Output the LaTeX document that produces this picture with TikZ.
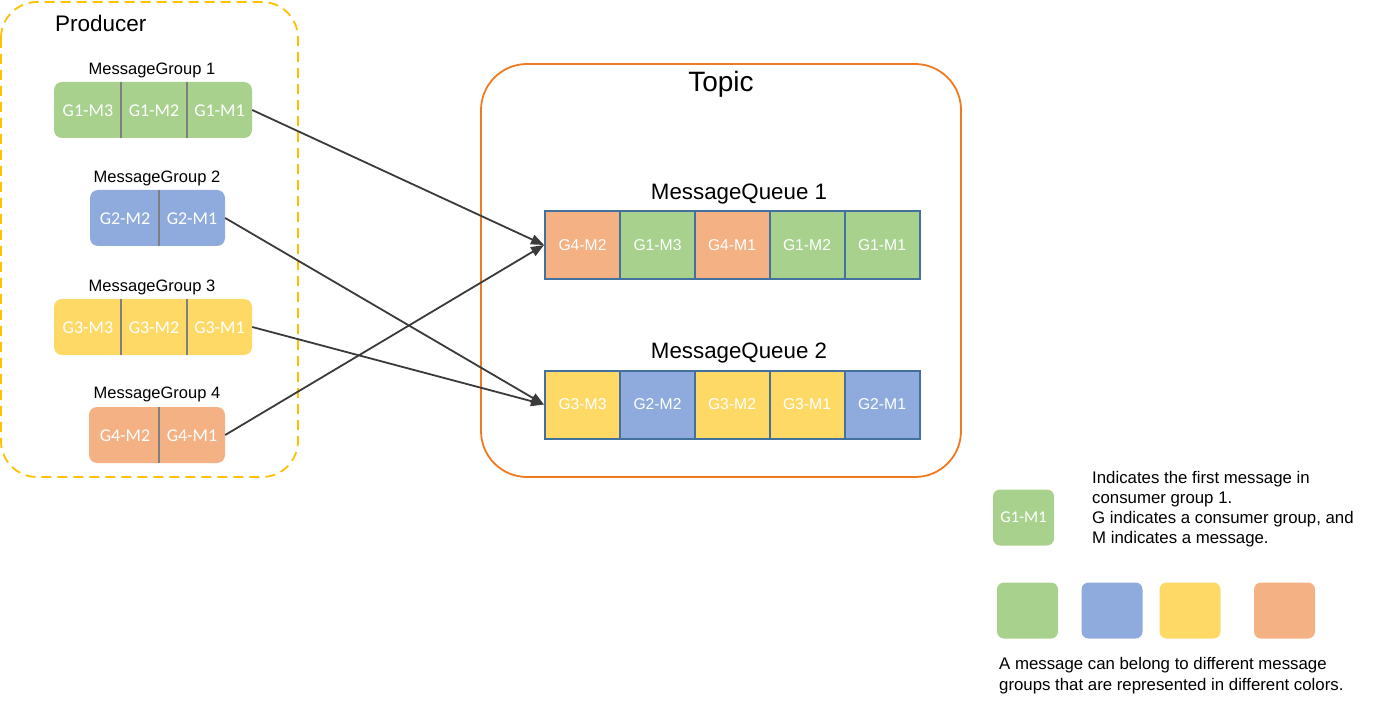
\documentclass[tikz,border=0pt]{standalone}
\usepackage{fontspec}
\setmainfont{Liberation Sans}
\newfontfamily\carlitofont{Carlito}
\usetikzlibrary{arrows.meta}
\definecolor{cgreen}{HTML}{A9D18E}
\definecolor{cblue}{HTML}{8FAADC}
\definecolor{cyellow}{HTML}{FFD966}
\definecolor{corange}{HTML}{F4B183}
\definecolor{prodline}{HTML}{FFC000}
\definecolor{topicline}{HTML}{F27A1E}
\definecolor{qline}{HTML}{41719C}
\definecolor{arrcol}{HTML}{3A3A3A}
\definecolor{divcol}{HTML}{7F7F7F}
\tikzset{
  grpbox/.style={rounded corners=8pt, inner sep=0pt, draw=none},
  pcell/.style={text=white, font=\carlitofont\fontsize{18}{21}\selectfont, inner sep=0pt},
  divider/.style={divcol, line width=1.6pt},
  qcell/.style={draw=qline, line width=2pt, minimum width=75pt, minimum height=68pt, inner sep=0pt, text=white, font=\fontsize{15.7}{18}\selectfont},
  lbl/.style={font=\fontsize{16.5}{19}\selectfont, inner sep=0pt},
  arr/.style={arrcol, line width=1.8pt, -{Triangle[length=13pt,width=10pt]}},
  swatch/.style={rounded corners=7pt, inner sep=0pt, minimum width=61pt, minimum height=56pt},
}
\begin{document}
\begin{tikzpicture}[x=1pt,y=-1pt]
\useasboundingbox (0,0) rectangle (1383,708);
% Producer
\draw[prodline, line width=1.8pt, dash pattern=on 10pt off 6pt, rounded corners=36pt] (1,2) rectangle (298,477);
\node[anchor=west, inner sep=0pt, font=\fontsize{22.5}{26}\selectfont] (prod) at (55,23) {Producer};
% Group 1
\node[lbl] (lg1) at (152,70.5) {MessageGroup 1};
\node[grpbox, fill=cgreen, minimum width=198pt, minimum height=56pt] (g1) at (153,110) {};
\node[pcell] (g1m3) at (88,111) {G1-M3};
\node[pcell] (g1m2) at (154,111) {G1-M2};
\node[pcell] (g1m1) at (219.5,111) {G1-M1};
\draw[divider] (121,82) -- (121,138);
\draw[divider] (187,82) -- (187,138);
% Group 2
\node[lbl] (lg2) at (157,178.5) {MessageGroup 2};
\node[grpbox, fill=cblue, minimum width=135pt, minimum height=56pt] (g2) at (157.5,218) {};
\node[pcell] (g2m2) at (125,219) {G2-M2};
\node[pcell] (g2m1) at (192,219) {G2-M1};
\draw[divider] (159,190) -- (159,246);
% Group 3
\node[lbl] (lg3) at (152,287.5) {MessageGroup 3};
\node[grpbox, fill=cyellow, minimum width=198pt, minimum height=56pt] (g3) at (153,327) {};
\node[pcell] (g3m3) at (88,328) {G3-M3};
\node[pcell] (g3m2) at (154,328) {G3-M2};
\node[pcell] (g3m1) at (219.5,328) {G3-M1};
\draw[divider] (121,299) -- (121,355);
\draw[divider] (187,299) -- (187,355);
% Group 4
\node[lbl] (lg4) at (157,394.5) {MessageGroup 4};
\node[grpbox, fill=corange, minimum width=136pt, minimum height=56pt] (g4) at (157,435) {};
\node[pcell] (g4m2) at (125,436) {G4-M2};
\node[pcell] (g4m1) at (192,436) {G4-M1};
\draw[divider] (159,407) -- (159,463);
% Topic
\draw[topicline, line width=1.8pt, rounded corners=46pt] (481,64) rectangle (961,477);
\node[inner sep=0pt, font=\fontsize{28}{32}\selectfont] (topic) at (721,84.5) {Topic};
% Queue 1
\node[inner sep=0pt, font=\fontsize{22.3}{26}\selectfont] (lq1) at (739,194) {MessageQueue 1};
\node[qcell, fill=corange] (q1a) at (582.5,245) {G4-M2};
\node[qcell, fill=cgreen] (q1b) at (657.5,245) {G1-M3};
\node[qcell, fill=corange] (q1c) at (732,245) {G4-M1};
\node[qcell, fill=cgreen] (q1d) at (807,245) {G1-M2};
\node[qcell, fill=cgreen] (q1e) at (882,245) {G1-M1};
% Queue 2
\node[inner sep=0pt, font=\fontsize{22.3}{26}\selectfont] (lq2) at (739,353) {MessageQueue 2};
\node[qcell, fill=cyellow] (q2a) at (582.5,404.5) {G3-M3};
\node[qcell, fill=cblue] (q2b) at (657.5,404.5) {G2-M2};
\node[qcell, fill=cyellow] (q2c) at (732,404.5) {G3-M2};
\node[qcell, fill=cyellow] (q2d) at (807,404.5) {G3-M1};
\node[qcell, fill=cblue] (q2e) at (882,404.5) {G2-M1};
% Arrows
\draw[arr] (g1.east) -- (q1a.west);
\draw[arr] (g2.east) -- (q2a.west);
\draw[arr] (g3.east) -- (q2a.west);
\draw[arr] (g4.east) -- (q1a.west);
% Legend
\node[swatch, fill=cgreen, text=white, font=\carlitofont\fontsize{16.5}{19}\selectfont] (leg) at (1023.5,517.5) {G1-M1};
\node[anchor=north west, inner sep=0pt, align=left, font=\fontsize{16.8}{20}\selectfont] (legtxt) at (1092,471) {Indicates the first message in\\consumer group 1.\\G indicates a consumer group, and\\M indicates a message.};
\node[swatch, fill=cgreen] (sw1) at (1027.5,610.5) {};
\node[swatch, fill=cblue] (sw2) at (1112,610.5) {};
\node[swatch, fill=cyellow] (sw3) at (1190,610.5) {};
\node[swatch, fill=corange] (sw4) at (1284.5,610.5) {};
\node[anchor=north west, inner sep=0pt, align=left, font=\fontsize{16.8}{21}\selectfont] (colnote) at (999,657) {A message can belong to different message\\groups that are represented in different colors.};
\end{tikzpicture}
\end{document}
